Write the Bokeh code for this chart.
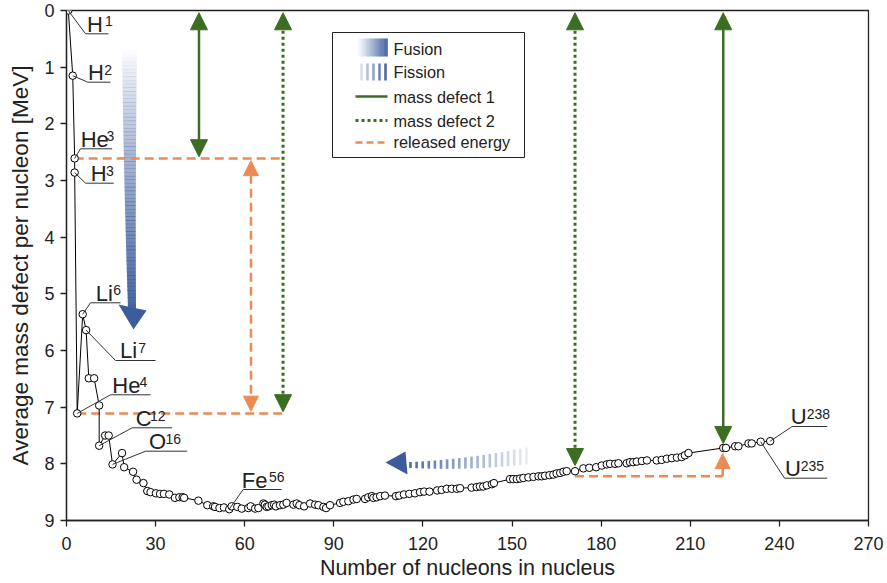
from bokeh.plotting import figure
from bokeh.models import Range1d, Arrow, NormalHead, FixedTicker
from bokeh.embed import file_html
from bokeh.resources import INLINE
from bokeh.core.properties import value

# ---------------- data ----------------
nucleons = [0.6, 2.1, 2.75, 2.75, 3.6, 5.45, 6.6, 7.5, 9.3, 11.0,
            11.0, 13.0, 14.2, 15.5, 18.7, 19.4, 22.4, 23.6, 25.9, 27.2,
            28.3, 30.1, 31.5, 32.8, 34.6, 36.5, 38.0, 39.1, 39.6, 44.4,
            47.4, 49.4, 50.0, 51.5, 53.0, 54.8, 55.6, 57.5, 59.0, 61.2,
            62.0, 63.5, 64.6, 66.3, 66.8, 67.4, 68.0, 69.1, 69.9, 70.5,
            71.9, 73.0, 74.1, 76.4, 77.5, 78.4, 80.0, 82.0, 83.7, 84.8,
            86.5, 87.4, 88.7, 92.1, 93.2, 94.9, 96.6, 97.7, 100.5, 101.6,
            102.8, 103.3, 104.4, 105.6, 107.2, 110.9, 112.0, 113.6, 115.4, 117.3,
            119.0, 120.4, 122.2, 124.8, 126.3, 128.0, 129.7, 131.4, 132.5, 136.4,
            138.1, 139.2, 140.3, 141.5, 143.2, 143.9, 149.3, 150.4, 151.6, 152.7,
            153.8, 155.5, 157.2, 158.9, 160.0, 161.1, 162.6, 163.9, 165.0, 166.2,
            167.3, 168.4, 171.2, 174.0, 176.0, 178.3, 180.2, 181.9, 183.0, 184.7,
            185.8, 188.6, 189.7, 190.8, 192.0, 193.7, 195.4, 198.7, 200.4, 202.1,
            203.8, 205.5, 207.1, 208.2, 209.4, 221.1, 222.0, 225.1, 226.2, 229.6,
            230.7, 233.7, 236.9]
defect = [0.00, 1.15, 2.61, 2.86, 7.11, 5.36, 5.64, 6.49, 6.49, 6.97,
          7.68, 7.50, 7.50, 8.01, 7.81, 8.06, 8.14, 8.28, 8.34, 8.48,
          8.50, 8.52, 8.53, 8.53, 8.54, 8.60, 8.59, 8.59, 8.60, 8.65,
          8.73, 8.75, 8.76, 8.78, 8.77, 8.80, 8.75, 8.76, 8.79, 8.78,
          8.75, 8.79, 8.78, 8.70, 8.72, 8.76, 8.75, 8.73, 8.72, 8.75,
          8.73, 8.72, 8.69, 8.72, 8.70, 8.73, 8.75, 8.70, 8.72, 8.73,
          8.76, 8.78, 8.73, 8.69, 8.67, 8.66, 8.63, 8.62, 8.62, 8.59,
          8.57, 8.60, 8.59, 8.57, 8.56, 8.57, 8.56, 8.54, 8.53, 8.52,
          8.50, 8.49, 8.49, 8.47, 8.46, 8.44, 8.44, 8.44, 8.43, 8.42,
          8.41, 8.40, 8.40, 8.38, 8.36, 8.34, 8.27, 8.27, 8.27, 8.26,
          8.25, 8.24, 8.23, 8.22, 8.22, 8.21, 8.20, 8.19, 8.17, 8.16,
          8.14, 8.13, 8.13, 8.08, 8.07, 8.06, 8.03, 8.01, 8.00, 8.00,
          7.99, 7.99, 7.97, 7.97, 7.96, 7.95, 7.94, 7.94, 7.93, 7.91,
          7.90, 7.89, 7.88, 7.85, 7.81, 7.72, 7.72, 7.69, 7.69, 7.64,
          7.64, 7.61, 7.60]

iso_symbol = ["H", "H", "He", "H", "Li", "Li", "He", "C", "O", "Fe", "U", "U"]
iso_mass = ["1", "2", "3", "3", "6", "7", "4", "12", "16", "56", "238", "235"]
iso_point = [0, 1, 2, 3, 5, 6, 4, 10, 13, 35, 142, 141]

# mass defect / released energy markers (x position, from, to)
md1_x = [44.6, 221.1]
md1_from = [0.04, 0.04]
md1_to = [2.58, 7.64]
md2_x = [72.9, 171.2]
md2_from = [0.04, 0.04]
md2_to = [7.08, 8.03]
released_x = [62.1, 220.9]
released_level = [8.22]

x_ticks = [0, 30, 60, 90, 120, 150, 180, 210, 240, 270]
y_ticks = [0, 1, 2, 3, 4, 5, 6, 7, 8, 9]
x_title = "Number of nucleons in nucleus"
y_title = "Average mass defect per nucleon [MeV]"
legend_labels = ["Fusion", "Fission", "mass defect 1", "mass defect 2", "released energy"]

# ---------------- layout helpers ----------------
W, H = 887, 583
L, R, T, B = 66, 868, 10, 520
XMAX, YMAX = 270, 9


def px2x(px):
    return (px - L) * XMAX / (R - L)


def px2y(py):
    return (py - T) * YMAX / (B - T)


GREEN = "#3b6d22"
ORANGE = "#ec8a55"
BLUE = "#3d5c9c"
FONT = "Liberation Sans"

p = figure(width=W, height=H, x_range=Range1d(0, XMAX), y_range=Range1d(YMAX, 0),
           output_backend="svg", toolbar_location=None,
           min_border_left=L, min_border_right=W - R, min_border_top=T,
           min_border_bottom=H - B)
p.xgrid.visible = False
p.ygrid.visible = False
p.background_fill_color = "white"
p.border_fill_color = "white"
p.outline_line_color = "#222222"
p.outline_line_width = 1.3

p.xaxis.ticker = FixedTicker(ticks=x_ticks)
p.yaxis.ticker = FixedTicker(ticks=y_ticks)
for ax in (p.xaxis[0], p.yaxis[0]):
    ax.minor_tick_line_color = None
    ax.major_tick_in = 0
    ax.major_tick_out = 6
    ax.major_tick_line_width = 1.3
    ax.axis_line_width = 1.3
    ax.axis_line_color = "#222222"
    ax.major_tick_line_color = "#222222"
    ax.major_label_text_font = FONT
    ax.major_label_text_font_size = "18px"
    ax.major_label_text_color = "#222222"
    ax.axis_label_text_font = FONT
    ax.axis_label_text_font_style = "normal"
    ax.axis_label_text_color = "#222222"
p.xaxis.axis_label = x_title
p.yaxis.axis_label = y_title
p.xaxis.axis_label_text_font_size = "21.5px"
p.yaxis.axis_label_text_font_size = "22.5px"
p.xaxis.major_label_standoff = 10
p.xaxis.axis_label_standoff = 3
p.yaxis.major_label_standoff = 6
p.yaxis.axis_label_standoff = 8

# ---------------- fusion arrow (gradient) ----------------
n = 70
fx, fy, fa = [], [], []


def edge(t):
    return 129 + 2.5 * t * t, 7.5 - 3.5 * t, 50 + t * (308 - 50)


for i in range(n):
    t0, t1 = i / n, (i + 1) / n
    c0, h0, y0 = edge(t0)
    c1, h1, y1 = edge(t1)
    fx.append([px2x(c0 - h0), px2x(c0 + h0), px2x(c1 + h1), px2x(c1 - h1)])
    fy.append([px2y(y0), px2y(y0), px2y(y1 + 0.6), px2y(y1 + 0.6)])
    fa.append(0.95 * ((t0 + t1) / 2) ** 0.85)
p.patches(fx, fy, fill_color=BLUE, fill_alpha=fa, line_color=None)
p.patch([px2x(118), px2x(146), px2x(133)], [px2y(304), px2y(310), px2y(329)],
        fill_color=BLUE, line_color=None)

# ---------------- fission arrow (stripes) ----------------
sl, sr, st, sb, sa = [], [], [], [], []
ns = 20
for i in range(ns):
    u = i / (ns - 1)
    xc = 410 + i * 6.1
    yc = 464.5 - 9 * u * u
    hh = 3 + 5.5 * u
    sl.append(px2x(xc - 1.3))
    sr.append(px2x(xc + 1.3))
    st.append(px2y(yc - hh))
    sb.append(px2y(yc + hh))
    sa.append(0.9 - 0.78 * u)
p.quad(left=sl, right=sr, top=st, bottom=sb, fill_color=BLUE, fill_alpha=sa, line_color=None)
p.patch([px2x(385), px2x(405), px2x(407)], [px2y(462), px2y(451), px2y(474)],
        fill_color=BLUE, line_color=None)

# ---------------- released energy (orange) ----------------
He3_v = defect[2]
He4_v = defect[4]
p.line([nucleons[2], md2_x[0]], [He3_v, He3_v], line_color=ORANGE, line_width=2.5, line_dash="9 5")
p.line([nucleons[4], md2_x[0]], [He4_v, He4_v], line_color=ORANGE, line_width=2.5, line_dash="9 5")
p.line([md2_x[1], released_x[1]], [released_level[0]] * 2, line_color=ORANGE, line_width=2.5,
       line_dash="9 5")
p.add_layout(Arrow(start=NormalHead(size=15, fill_color=ORANGE, line_color=ORANGE),
                   end=NormalHead(size=15, fill_color=ORANGE, line_color=ORANGE),
                   x_start=released_x[0], y_start=He3_v + 0.04, x_end=released_x[0], y_end=He4_v - 0.04,
                   line_color=ORANGE, line_width=2.5, line_dash="9 5"))
p.add_layout(Arrow(end=NormalHead(size=15, fill_color=ORANGE, line_color=ORANGE),
                   x_start=released_x[1], y_start=released_level[0], x_end=released_x[1], y_end=7.82,
                   line_color=ORANGE, line_width=2.5, line_dash="9 5"))

# ---------------- mass defect arrows (green) ----------------
for x, a, b in zip(md1_x, md1_from, md1_to):
    p.add_layout(Arrow(start=NormalHead(size=17, fill_color=GREEN, line_color=GREEN),
                       end=NormalHead(size=17, fill_color=GREEN, line_color=GREEN),
                       x_start=x, y_start=a, x_end=x, y_end=b,
                       line_color=GREEN, line_width=2.5))
for x, a, b in zip(md2_x, md2_from, md2_to):
    p.add_layout(Arrow(start=NormalHead(size=17, fill_color=GREEN, line_color=GREEN),
                       end=NormalHead(size=17, fill_color=GREEN, line_color=GREEN),
                       x_start=x, y_start=a, x_end=x, y_end=b,
                       line_color=GREEN, line_width=3, line_dash="3 3"))

# ---------------- curve ----------------
p.line(nucleons, defect, line_color="black", line_width=1)
p.scatter(nucleons, defect, marker="circle", size=7.5, fill_color="white",
          line_color="black", line_width=1)

# ---------------- isotope labels with callouts ----------------
# corner (px), underline end x (px), text x (px), baseline (px), superscript x (px)
label_layout = [
    ((85, 33.3), 108, 88, 31.5, 105),
    ((87.3, 81.7), 110, 89, 80, 104.3),
    ((80, 148.3), 111.7, 81.7, 146.5, 106.5),
    ((85, 182.7), 113.3, 91.7, 181, 106),
    ((90, 302.3), 120, 96.7, 300.5, 113.3),
    ((115, 360), 155, 121, 358, 138.3),
    ((110, 394.3), 150, 113.3, 392.5, 139.5),
    ((131.7, 427.3), 171.7, 136.7, 426, 150),
    ((145, 450.7), 186.7, 150, 449, 165.5),
    ((242.7, 489), 281, 242.7, 487.5, 269),
    ((791.7, 426), 826.7, 791.7, 424, 806.7),
    ((784, 477.7), 826.7, 786, 476, 800.7),
]
BASE_FS, SUP_FS = 22, 14
cx, cy = [], []
bx, by, sx, sy = [], [], [], []
for k, (corner, endx, tx, base, supx) in enumerate(label_layout):
    i = iso_point[k]
    cx.append([nucleons[i], px2x(corner[0]), px2x(endx)])
    cy.append([defect[i], px2y(corner[1]), px2y(corner[1])])
    bx.append(px2x(tx - 1.5))
    by.append(px2y(base - 0.358 * BASE_FS))
    sx.append(px2x(supx - 0.5))
    sy.append(px2y(base - 0.716 * BASE_FS + 0.358 * SUP_FS))
p.multi_line(cx, cy, line_color="#333333", line_width=1)
p.text(bx, by, text=iso_symbol, text_font=value(FONT), text_font_size=value(f"{BASE_FS}px"),
       text_baseline="middle", text_align="left", text_color="#222222")
p.text(sx, sy, text=iso_mass, text_font=value(FONT), text_font_size=value(f"{SUP_FS}px"),
       text_baseline="middle", text_align="left", text_color="#222222")

# ---------------- legend (drawn) ----------------
p.quad(left=[px2x(332)], right=[px2x(524)], top=[px2y(32)], bottom=[px2y(157)],
       fill_color="white", line_color="#222222", line_width=1)
gl, gr, ga = [], [], []
ng = 24
for i in range(ng):
    u = i / (ng - 1)
    gl.append(px2x(355 + i * 32 / ng))
    gr.append(px2x(355 + (i + 1) * 32 / ng + 0.3))
    ga.append(0.95 * u ** 1.3)
p.quad(left=gl, right=gr, top=[px2y(38)] * ng, bottom=[px2y(56)] * ng,
       fill_color=BLUE, fill_alpha=ga, line_color=None)
fl, fr, fa2 = [], [], []
for i in range(5):
    xc = 361 + i * 6
    fl.append(px2x(xc - 1.3))
    fr.append(px2x(xc + 1.3))
    fa2.append(0.2 + 0.18 * i)
p.quad(left=fl, right=fr, top=[px2y(63)] * 5, bottom=[px2y(80)] * 5,
       fill_color=BLUE, fill_alpha=fa2, line_color=None)
p.line([px2x(355), px2x(387)], [px2y(96), px2y(96)], line_color=GREEN, line_width=2.5)
p.line([px2x(355), px2x(387)], [px2y(120), px2y(120)], line_color=GREEN, line_width=3, line_dash="3 3")
p.line([px2x(355), px2x(387)], [px2y(142), px2y(142)], line_color=ORANGE, line_width=2.5, line_dash="7 4")
p.text([px2x(393)] * 5, [px2y(v) for v in (48.5, 71.5, 96, 120, 141.5)], text=legend_labels,
       text_font=value(FONT), text_font_size=value("16.3px"), text_baseline="middle",
       text_align="left", text_color="#222222")

open("out.html", "w").write(file_html(p, INLINE))
